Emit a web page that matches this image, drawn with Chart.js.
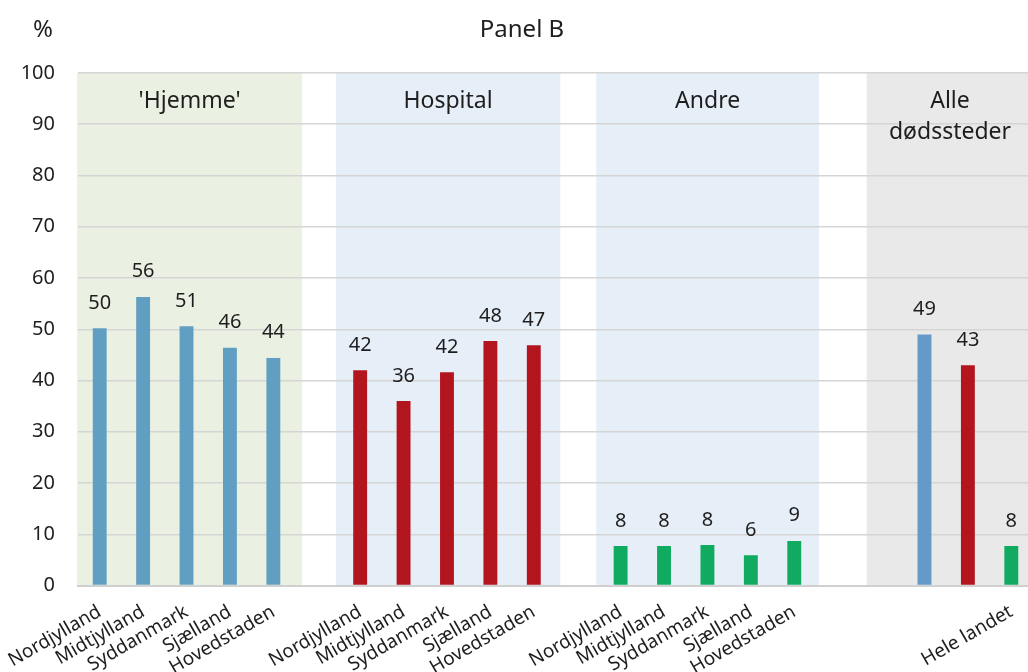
<!DOCTYPE html>
<html>
<head>
<meta charset="utf-8">
<script src="https://cdn.jsdelivr.net/npm/chart.js@4"></script>
<style>
  html, body { margin: 0; padding: 0; background: #fff; overflow: hidden; }
  #wrap { width: 1040px; height: 672px; }
</style>
</head>
<body>
<div id="wrap"><canvas id="panelB"></canvas></div>
<script>
// data (percent)
const regions = ['Nordjylland', 'Midtjylland', 'Syddanmark', 'Sjælland', 'Hovedstaden'];
const hjemme = [50.2, 56.3, 50.6, 46.4, 44.4];
const hospital = [42.0, 36.0, 41.6, 47.7, 46.9];
const andre = [7.7, 7.7, 7.9, 5.9, 8.7];
const heleLandet = [49.0, 43.0, 7.7];
const groupTitles = [["'Hjemme'"], ['Hospital'], ['Andre'], ['Alle', 'dødssteder']];
// shaded background bands, in category units
const bandRanges = [[-0.52, 4.66], [5.44, 10.61], [11.44, 16.57], [17.67, 22]];
const bandColors = ['#ebf1e2', '#e6eef7', '#e6eef7', '#e9e9e9'];

const blue = '#609fc2', blueAll = '#6499c9', red = '#b3151f', green = '#10ab60';

// 22 slots: three groups of five, gaps, then the national bars on 19-21
const labels = [...regions, '', ...regions, '', ...regions, '', '', '', '', 'Hele landet'];
const values = [...hjemme, null, ...hospital, null, ...andre, null, null, ...heleLandet];
const colors = [
  ...hjemme.map(() => blue), null,
  ...hospital.map(() => red), null,
  ...andre.map(() => green), null, null,
  blueAll, red, green
];

const FONT = '"Noto Sans", sans-serif';
const TEXT = '#1e1e1e';

const catPix = (scale, v) => {
  const p0 = scale.getPixelForValue(0);
  const p1 = scale.getPixelForValue(1);
  return p0 + v * (p1 - p0);
};

const bandsPlugin = {
  id: 'bands',
  beforeDraw(chart) {
    const { ctx, chartArea, scales: { x, y } } = chart;
    const top = y.getPixelForValue(100);
    const bottom = y.getPixelForValue(0);
    ctx.save();
    bandRanges.forEach((r, i) => {
      const a = catPix(x, r[0]);
      const b = Math.min(catPix(x, r[1]), chartArea.right + 20);
      ctx.fillStyle = bandColors[i];
      ctx.fillRect(a, top, b - a, bottom - top);
    });
    ctx.restore();
  },
  afterDraw(chart) {
    const { ctx, scales: { x } } = chart;
    ctx.save();
    ctx.fillStyle = TEXT;
    ctx.textAlign = 'center';
    ctx.textBaseline = 'alphabetic';
    ctx.font = '23px ' + FONT;
    groupTitles.forEach((lines, i) => {
      const r = bandRanges[i];
      let cx = (catPix(x, r[0]) + catPix(x, Math.min(r[1], 21.5))) / 2;
      if (i === 3) cx = 950;
      lines.forEach((t, j) => ctx.fillText(t, cx, 108 + j * 31));
    });
    // title and unit
    ctx.font = '24px ' + FONT;
    ctx.fillText('Panel B', 522, 37);
    ctx.textAlign = 'left';
    ctx.font = '24px ' + FONT;
    ctx.fillText('%', 33, 37);
    ctx.restore();
  }
};

const valueLabels = {
  id: 'valueLabels',
  afterDatasetsDraw(chart) {
    const { ctx } = chart;
    const meta = chart.getDatasetMeta(0);
    ctx.save();
    ctx.fillStyle = TEXT;
    ctx.font = '20px ' + FONT;
    ctx.textAlign = 'center';
    ctx.textBaseline = 'alphabetic';
    meta.data.forEach((bar, i) => {
      const v = values[i];
      if (v === null || v === undefined) return;
      ctx.fillText(String(Math.round(v)), bar.x, bar.y - 19.5);
    });
    ctx.restore();
  }
};

new Chart(document.getElementById('panelB'), {
  type: 'bar',
  data: {
    labels: labels,
    datasets: [{
      data: values,
      backgroundColor: colors,
      barPercentage: 0.8,
      categoryPercentage: 0.4
    }]
  },
  options: {
    responsive: true,
    maintainAspectRatio: false,
    animation: false,
    layout: { padding: { top: 73, right: 7, left: 0, bottom: 0 } },
    plugins: {
      legend: { display: false },
      tooltip: { enabled: false }
    },
    scales: {
      x: {
        grid: { display: false },
        border: { color: '#d0d0d0', width: 2 },
        ticks: {
          autoSkip: false,
          minRotation: 30,
          maxRotation: 30,
          padding: 7,
          color: TEXT,
          font: { family: FONT, size: 19 }
        },
        afterFit(s) { s.height = 86.5; }
      },
      y: {
        min: 0,
        max: 100,
        border: { display: false },
        grid: { color: '#d5d5d5', lineWidth: 1.5, drawTicks: false },
        ticks: {
          stepSize: 10,
          padding: 23,
          color: TEXT,
          font: { family: FONT, size: 20 }
        },
        afterFit(s) { s.width = 78; }
      }
    }
  },
  plugins: [bandsPlugin, valueLabels]
});
</script>
</body>
</html>
